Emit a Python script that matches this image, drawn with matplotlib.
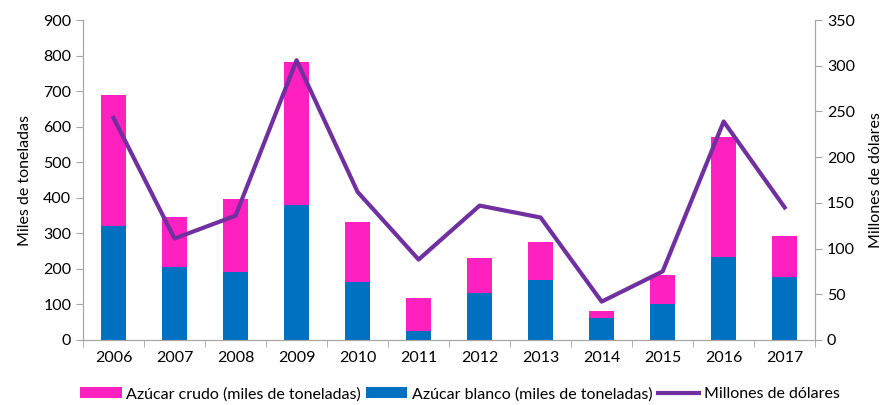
import matplotlib.pyplot as plt
import numpy as np

plt.rcParams['font.family'] = ['Lato', 'DejaVu Sans']

years = ['2006', '2007', '2008', '2009', '2010', '2011', '2012', '2013', '2014', '2015', '2016', '2017']
blanco = [322, 206, 191, 380, 164, 25, 131, 169, 63, 101, 233, 176]
total = [690, 347, 396, 782, 332, 119, 230, 275, 82, 184, 570, 293]
crudo = [t - b for t, b in zip(total, blanco)]
dolares = [243, 111, 136, 306, 162, 88, 147, 134, 42, 75, 239, 145]

x = np.arange(len(years))
grey = '#A6A6A6'

fig = plt.figure(figsize=(8.88, 4.05), dpi=100)
ax = fig.add_axes([0.0935, 0.1605, 0.8245, 0.79])
ax2 = ax.twinx()

b1 = ax.bar(x, blanco, width=0.4, color='#0070C0', label='Azúcar blanco (miles de toneladas)')
b2 = ax.bar(x, crudo, width=0.4, bottom=blanco, color='#FF20C0', label='Azúcar crudo (miles de toneladas)')
l1, = ax2.plot(x, dolares, color='#7030A0', lw=3, label='Millones de dólares')

ax.set_xlim(-0.5, len(years) - 0.5)
ax.set_ylim(0, 900)
ax.set_yticks(range(0, 901, 100))
ax2.set_ylim(0, 350)
ax2.set_yticks(range(0, 351, 50))

ax.set_xticks(x)
ax.set_xticklabels(years)
ax.set_xticks(np.arange(-0.5, len(years)), minor=True)
ax.tick_params(axis='x', which='major', length=0, pad=8, labelsize=11.5)
ax.tick_params(axis='x', which='minor', length=5, color=grey, direction='out')
ax.tick_params(axis='y', length=5, color=grey, labelsize=11.5)
ax2.tick_params(axis='y', length=5, color=grey, labelsize=11.5)

for a in (ax, ax2):
    a.spines['top'].set_visible(False)
    for s in ('left', 'right', 'bottom'):
        a.spines[s].set_color(grey)

ax.set_ylabel('Miles de toneladas', fontsize=11.5, labelpad=8)
ax2.set_ylabel('Millones de dólares', fontsize=11.5, labelpad=10)

fig.legend([b2, b1, l1], [b2.get_label(), b1.get_label(), l1.get_label()],
           loc='center', bbox_to_anchor=(0.518, 0.027), ncol=3, frameon=False,
           fontsize=11.5, handlelength=2.6, handletextpad=0.3, columnspacing=0.3)

fig.savefig('out.png', dpi=100)
